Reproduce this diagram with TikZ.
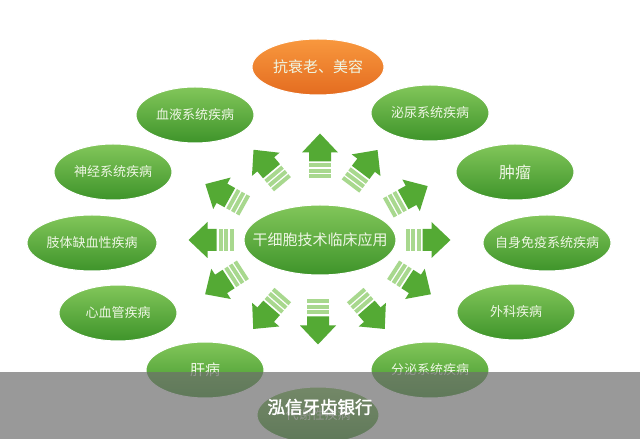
\documentclass[tikz,border=0pt]{standalone}
\usepackage{fontspec}
\newfontfamily\cjk{Noto Sans CJK SC}
\newfontfamily\cjkbold{Noto Sans CJK SC}[FakeBold=2]
\usetikzlibrary{shapes.geometric}
\definecolor{elltop}{RGB}{130,198,90}
\definecolor{ellbot}{RGB}{62,148,42}
\definecolor{orgtop}{RGB}{248,152,62}
\definecolor{orgbot}{RGB}{228,108,32}
\definecolor{arrowgreen}{RGB}{84,170,52}
\definecolor{arrowpale}{RGB}{168,216,142}
\definecolor{txtpale}{RGB}{238,246,228}
\definecolor{barfill}{RGB}{110,110,110}

\newcommand\nowidth[1]{\makebox[0pt]{#1}}

\tikzset{
  bigarrow/.pic={
    \fill[arrowpale] (-22.5,-11) rectangle (-18.5,11);
    \fill[arrowpale] (-17,-11) rectangle (-13,11);
    \fill[arrowpale] (-11.5,-11) rectangle (-7.5,11);
    \fill[arrowgreen] (-5.5,-11) -- (3.5,-11) -- (3.5,-18) -- (22.5,0)
      -- (3.5,18) -- (3.5,11) -- (-5.5,11) -- cycle;
  }
}

\begin{document}
\begin{tikzpicture}[x=1pt, y=1pt,
    disease/.style={ellipse, minimum width=118, minimum height=56, inner sep=0,
      top color=elltop, bottom color=ellbot, draw=white, line width=1,
      text=txtpale, font=\cjk\fontsize{13}{13}\selectfont},
    hub/.style={disease, minimum width=152, minimum height=70,
      font=\cjk\fontsize{15}{15}\selectfont},
    beauty/.style={disease, minimum width=132, minimum height=56,
      top color=orgtop, bottom color=orgbot, font=\cjk\fontsize{15}{15}\selectfont}]
  \useasboundingbox (0,0) rectangle (640,439);
  \fill[white] (0,0) rectangle (640,439);

  \node[hub] (core) at (320,199) {\nowidth{干细胞技术临床应用}};
  \node[beauty] (aging) at (318,372) {\nowidth{抗衰老、美容}};
  \node[disease] (blood) at (195,324) {\nowidth{血液系统疾病}};
  \node[disease] (urinary) at (430,326) {\nowidth{泌尿系统疾病}};
  \node[disease] (neuro) at (113,267) {\nowidth{神经系统疾病}};
  \node[disease, font=\cjk\fontsize{16}{16}\selectfont] (tumor) at (515,267) {\nowidth{肿瘤}};
  \node[disease, minimum width=130] (limb) at (92,196) {\nowidth{肢体缺血性疾病}};
  \node[disease, minimum width=128] (immune) at (547,196) {\nowidth{自身免疫系统疾病}};
  \node[disease] (cardio) at (118,126) {\nowidth{心血管疾病}};
  \node[disease] (surgery) at (516,127) {\nowidth{外科疾病}};
  \node[disease, font=\cjk\fontsize{15}{15}\selectfont] (liver) at (205,69) {\nowidth{肝病}};
  \node[disease] (endocrine) at (430,69) {\nowidth{分泌系统疾病}};
  \node[disease, minimum width=122] (metabolic) at (318,24) {\nowidth{代谢性疾病}};

  \foreach \x/\y/\a in {320/283/90, 318/117/-90, 268/272/130, 364/271/53,
      225/244/151, 408/242/29, 211/199/180, 428/199/0,
      224/157/213, 412/157/-33, 268/127/229, 370/127/-49}
    \pic[rotate=\a] at (\x,\y) {bigarrow};

  \fill[barfill, opacity=0.7] (0,0) rectangle (640,67);
  \node[text=white, font=\cjkbold\fontsize{17.5}{17.5}\selectfont] (bank) at (320,32) {泓信牙齿银行};
\end{tikzpicture}
\end{document}
